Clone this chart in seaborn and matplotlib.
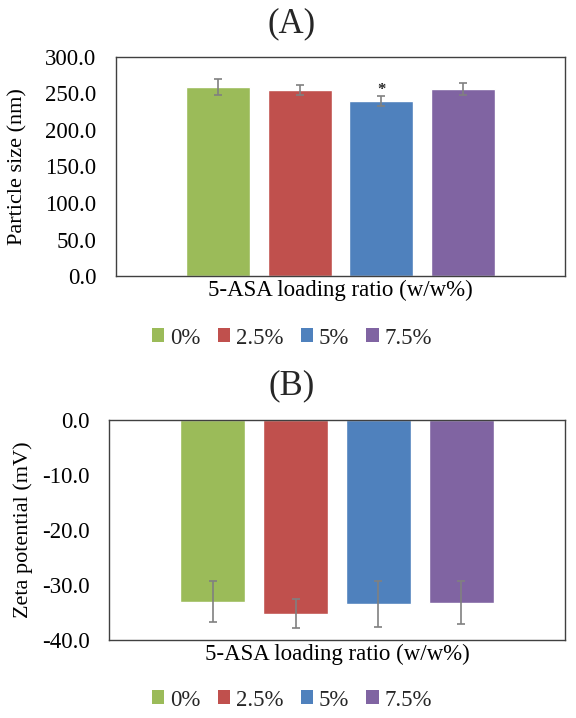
import matplotlib
matplotlib.use('Agg')
import matplotlib.pyplot as plt
from matplotlib.patches import Patch
import seaborn as sns
import pandas as pd

# data
ratios = ['0%', '2.5%', '5%', '7.5%']
colors = ['#9BBB59', '#C0504D', '#4F81BD', '#8064A2']
size_mean = [259.0, 254.5, 239.3, 256.2]
size_err = [11.0, 6.5, 6.9, 8.7]
size_sig = ['', '', '*', '']
zeta_mean = [-33.0, -35.2, -33.5, -33.2]
zeta_err = [3.8, 2.7, 4.2, 3.9]

sns.set_theme(style='white')
plt.rcParams['font.family'] = ['Liberation Serif', 'DejaVu Serif']

W, H = 576, 718
fig = plt.figure(figsize=(W / 100, H / 100), dpi=100)


def box(left, top, right, bottom):
    return [left / W, 1 - bottom / H, (right - left) / W, (bottom - top) / H]


def draw_panel(ax, means, errs, ylabel, ylim, yticks, label_x):
    df = pd.DataFrame({'ratio': ratios, 'value': means})
    sns.barplot(data=df, x='ratio', y='value', hue='ratio', palette=colors,
                saturation=1, width=0.78, legend=False, ax=ax)
    xs = [p.get_x() + p.get_width() / 2 for p in ax.patches]
    ax.errorbar(xs, means, yerr=errs, fmt='none', ecolor='#808080',
                elinewidth=1.2, capsize=3, capthick=1.2)
    ax.set_xlim(-1.25, 4.25)
    ax.set_ylim(*ylim)
    ax.set_yticks(yticks)
    ax.set_yticklabels([f'{v:.1f}' for v in yticks])
    ax.set_xticks([])
    ax.tick_params(axis='y', length=0, pad=14, labelsize=16.5, labelcolor='black')
    ax.set_xlabel('5-ASA loading ratio (w/w%)', fontsize=16.5, labelpad=3, color='black')
    ax.set_ylabel(ylabel, fontsize=16, color='black', va='center')
    pos = ax.get_position()
    ax.yaxis.set_label_coords(label_x / W, (pos.y0 + pos.y1) / 2, transform=fig.transFigure)
    for sp in ax.spines.values():
        sp.set_visible(True)
        sp.set_color('#404040')
        sp.set_linewidth(1.0)
    return xs


def add_legend(y_px):
    handles = [Patch(facecolor=c, edgecolor='none', label=r) for c, r in zip(colors, ratios)]
    fig.legend(handles=handles, loc='center', bbox_to_anchor=(292 / W, 1 - y_px / H),
               ncol=4, frameon=False, fontsize=16.5, handlelength=0.55, handleheight=0.55,
               handletextpad=0.25, columnspacing=0.75)


# (A) particle size
ax1 = fig.add_axes(box(116, 57, 565, 276))
xs = draw_panel(ax1, size_mean, size_err, 'Particle size (nm)', (0, 300),
                [0, 50, 100, 150, 200, 250, 300], 18)
for x, m, e, s in zip(xs, size_mean, size_err, size_sig):
    if s:
        ax1.annotate(s, (x, m + e), xytext=(0, -1), textcoords='offset points',
                     ha='center', va='bottom', fontsize=12, fontweight='bold')
fig.text(292 / W, 1 - 24 / H, '(A)', ha='center', va='center', fontsize=25)
add_legend(338)

# (B) zeta potential
ax2 = fig.add_axes(box(109, 420, 565, 640))
draw_panel(ax2, zeta_mean, zeta_err, 'Zeta potential (mV)', (-40, 0),
           [0, -10, -20, -30, -40], 23)
fig.text(292 / W, 1 - 386 / H, '(B)', ha='center', va='center', fontsize=25)
add_legend(700)

fig.savefig('out.png', dpi=100)
